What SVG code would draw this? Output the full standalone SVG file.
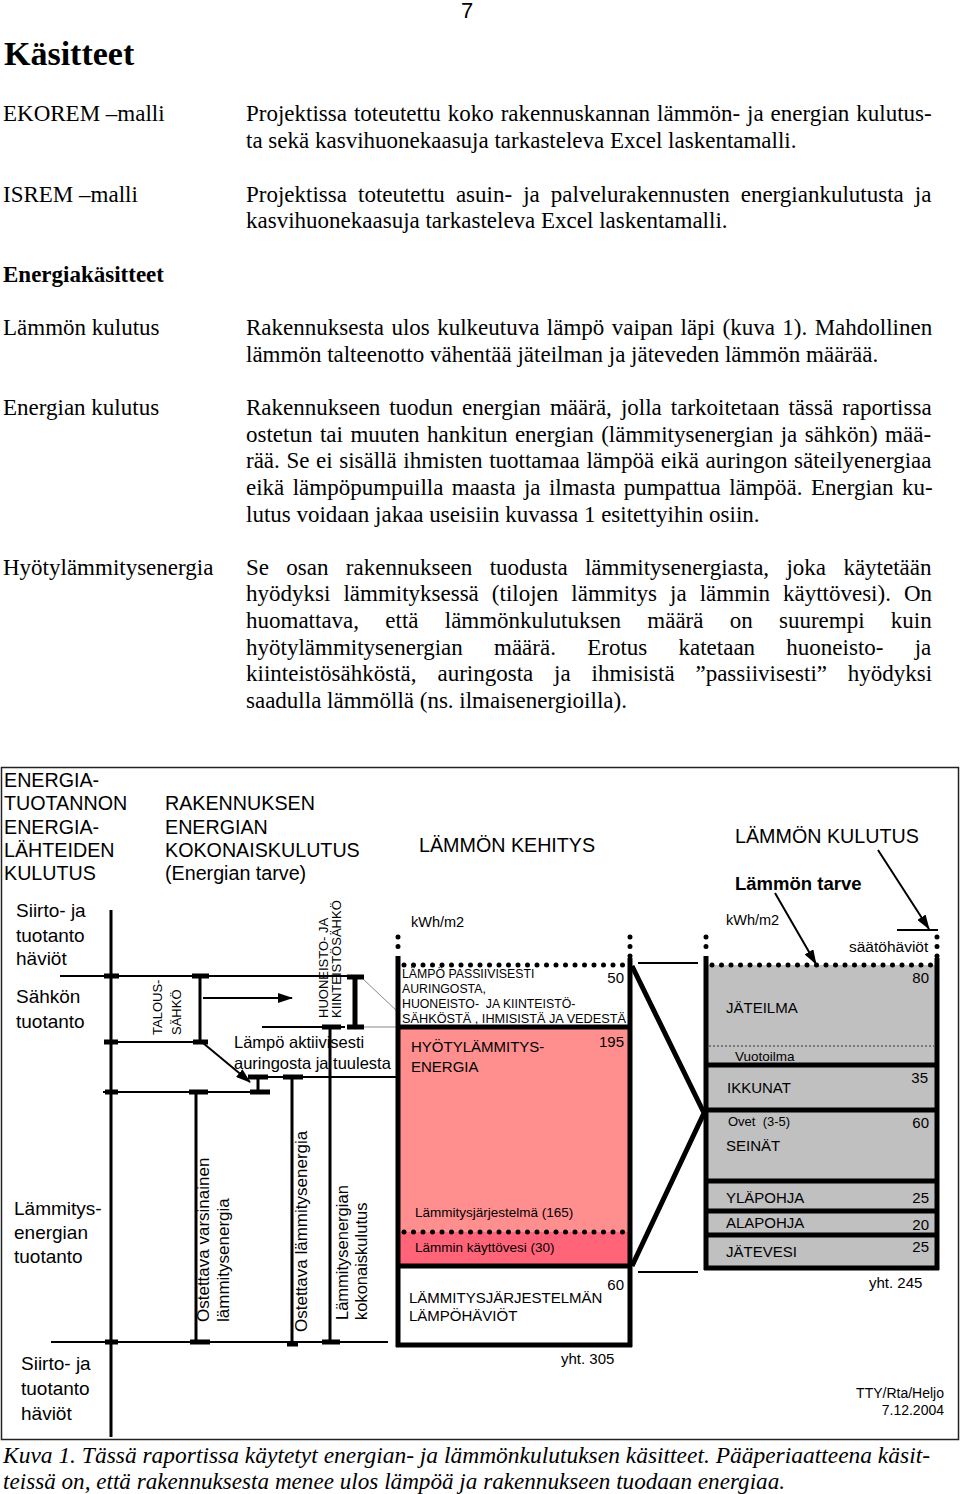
<svg xmlns="http://www.w3.org/2000/svg" width="960" height="1494" viewBox="0 0 960 1494">
<defs>
<style>
.b{font-family:"Liberation Serif","Times New Roman",serif;font-size:23px;fill:#000}
.s{font-family:"Liberation Sans",Arial,sans-serif;fill:#000}
.h{font-size:19.7px}
.m{font-size:19px}
.n{font-size:15px}
.ln{stroke:#000;stroke-width:2;fill:none}
.vl{stroke:#000;stroke-width:3;fill:none}
.tk{stroke:#000;stroke-width:5;fill:none}
.bd{stroke:#000;stroke-width:5;fill:none}
.dt{stroke:#000;stroke-width:5;fill:none;stroke-linecap:round;stroke-dasharray:0 9.5}
.gr{stroke:#888;stroke-width:1;fill:none}
.ar{stroke:#000;stroke-width:2;fill:none;marker-end:url(#arr)}
</style>
<marker id="arr" viewBox="0 0 15 10" refX="14" refY="5" markerWidth="15" markerHeight="10" markerUnits="userSpaceOnUse" orient="auto"><path d="M0,0 L15,5 L0,10 z" fill="#000"/></marker>
</defs>
<rect width="960" height="1494" fill="#fff"/>

<g id="page-text">
<text class="s" x="461" y="18" style="font-size:22px">7</text>
<text class="b" x="4" y="65" style="font-size:34px;font-weight:bold">Käsitteet</text>
<text class="b" x="3" y="121">EKOREM –malli</text>
<text class="b" x="246" y="121" style="word-spacing:1.2px">Projektissa toteutettu koko rakennuskannan lämmön- ja energian kulutus-</text>
<text class="b" x="246" y="147.5">ta sekä kasvihuonekaasuja tarkasteleva Excel laskentamalli.</text>
<text class="b" x="3" y="201.5">ISREM –malli</text>
<text class="b" x="246" y="201.5" style="word-spacing:5.3px">Projektissa toteutettu asuin- ja palvelurakennusten energiankulutusta ja</text>
<text class="b" x="246" y="228">kasvihuonekaasuja tarkasteleva Excel laskentamalli.</text>
<text class="b" x="3" y="281.5" style="font-weight:bold">Energiakäsitteet</text>
<text class="b" x="3" y="334.5">Lämmön kulutus</text>
<text class="b" x="246" y="334.5" style="word-spacing:1.7px">Rakennuksesta ulos kulkeutuva lämpö vaipan läpi (kuva 1). Mahdollinen</text>
<text class="b" x="246" y="361.5">lämmön talteenotto vähentää jäteilman ja jäteveden lämmön määrää.</text>
<text class="b" x="3" y="414.5">Energian kulutus</text>
<text class="b" x="246" y="414.5" style="word-spacing:3.3px">Rakennukseen tuodun energian määrä, jolla tarkoitetaan tässä raportissa</text>
<text class="b" x="246" y="441.5" style="word-spacing:1.75px">ostetun tai muuten hankitun energian (lämmitysenergian ja sähkön) mää-</text>
<text class="b" x="246" y="468" style="word-spacing:0.85px">rää. Se ei sisällä ihmisten tuottamaa lämpöä eikä auringon säteilyenergiaa</text>
<text class="b" x="246" y="494.5" style="word-spacing:2.6px">eikä lämpöpumpuilla maasta ja ilmasta pumpattua lämpöä. Energian ku-</text>
<text class="b" x="246" y="521.5">lutus voidaan jakaa useisiin kuvassa 1 esitettyihin osiin.</text>
<text class="b" x="3" y="574.5">Hyötylämmitysenergia</text>
<text class="b" x="246" y="574.5" style="word-spacing:11.6px">Se osan rakennukseen tuodusta lämmitysenergiasta, joka käytetään</text>
<text class="b" x="246" y="600.5" style="word-spacing:7.3px">hyödyksi lämmityksessä (tilojen lämmitys ja lämmin käyttövesi). On</text>
<text class="b" x="246" y="627.5" style="word-spacing:20.5px">huomattava, että lämmönkulutuksen määrä on suurempi kuin</text>
<text class="b" x="246" y="654.5" style="word-spacing:25.5px">hyötylämmitysenergian määrä. Erotus katetaan huoneisto- ja</text>
<text class="b" x="246" y="680.5" style="word-spacing:15.1px">kiinteistösähköstä, auringosta ja ihmisistä ”passiivisesti” hyödyksi</text>
<text class="b" x="246" y="707.5">saadulla lämmöllä (ns. ilmaisenergioilla).</text>
<text class="b" x="3" y="1463" style="font-style:italic;font-size:24px" textLength="927" lengthAdjust="spacingAndGlyphs">Kuva  1.  Tässä raportissa käytetyt energian- ja lämmönkulutuksen käsitteet. Pääperiaatteena käsit-</text>
<text class="b" x="3" y="1489" style="font-style:italic;font-size:24px" textLength="782" lengthAdjust="spacingAndGlyphs">teissä on, että rakennuksesta menee ulos lämpöä ja rakennukseen tuodaan energiaa.</text>
</g>

<rect id="frame" x="1.5" y="767.5" width="957" height="672" fill="none" stroke="#222" stroke-width="1.5"/>

<g id="connectors">
<line class="ln" x1="60" y1="976" x2="347" y2="976"/>
<line class="ln" x1="107" y1="1042" x2="203" y2="1042"/>
<line class="ln" x1="103" y1="1092" x2="270" y2="1092"/>
<line class="ln" x1="248" y1="1077" x2="397" y2="1077"/>
<line class="ln" x1="262" y1="1027" x2="345" y2="1027"/>
<line class="gr" x1="363" y1="1027" x2="397" y2="1027"/>
<line class="gr" x1="362" y1="978" x2="398" y2="1012"/>
<line class="ln" x1="51" y1="1342" x2="388" y2="1342"/>
<line class="vl" x1="111" y1="910" x2="111" y2="1437"/>
<line class="vl" x1="200" y1="976" x2="200" y2="1042"/>
<line class="vl" x1="196" y1="1092" x2="196" y2="1342"/>
<line class="vl" x1="258" y1="1077" x2="258" y2="1092"/>
<line class="vl" x1="292" y1="1077" x2="292" y2="1345"/>
<line class="vl" x1="330" y1="1027" x2="330" y2="1342"/>
<line class="bd" x1="355" y1="977" x2="355" y2="1027"/>
<line class="tk" x1="104" y1="976" x2="119" y2="976"/>
<line class="tk" x1="192" y1="976" x2="209" y2="976"/>
<line class="tk" x1="104" y1="1042" x2="118" y2="1042"/>
<line class="tk" x1="193" y1="1042" x2="208" y2="1042"/>
<line class="tk" x1="105" y1="1092" x2="118" y2="1092"/>
<line class="tk" x1="189" y1="1092" x2="208" y2="1092"/>
<line class="tk" x1="248" y1="1077" x2="268" y2="1077"/>
<line class="tk" x1="250" y1="1092" x2="270" y2="1092"/>
<line class="tk" x1="283" y1="1077" x2="303" y2="1077"/>
<line class="tk" x1="322" y1="1027" x2="341" y2="1027"/>
<line class="tk" x1="347" y1="977" x2="364" y2="977"/>
<line class="tk" x1="347" y1="1027" x2="364" y2="1027"/>
<line class="tk" x1="105" y1="1342" x2="118" y2="1342"/>
<line class="tk" x1="190" y1="1342" x2="210" y2="1342"/>
<line class="tk" x1="287" y1="1344" x2="298" y2="1344"/>
<line class="tk" x1="322" y1="1342" x2="340" y2="1342"/>
<line class="ar" x1="203" y1="998" x2="292" y2="998"/>
<line class="ar" x1="203" y1="1043" x2="250" y2="1082"/>
<line class="ar" x1="878" y1="850" x2="929" y2="929"/>
<line class="ar" x1="775" y1="893" x2="816" y2="964"/>
<line class="ln" x1="897" y1="930" x2="938" y2="930"/>
<polyline class="bd" points="632,966 704,1113 632,1266"/>
<line stroke="#000" stroke-width="1.8" x1="638" y1="963" x2="698" y2="963"/>
<line stroke="#000" stroke-width="1.8" x1="638" y1="1272" x2="698" y2="1272"/>
</g>

<g id="left-labels" class="s">
<text class="h" x="4" y="787">ENERGIA-</text>
<text class="h" x="4" y="810">TUOTANNON</text>
<text class="h" x="4" y="833.5">ENERGIA-</text>
<text class="h" x="4" y="857">LÄHTEIDEN</text>
<text class="h" x="4" y="880">KULUTUS</text>
<text class="h" x="165" y="810">RAKENNUKSEN</text>
<text class="h" x="165" y="833.5">ENERGIAN</text>
<text class="h" x="165" y="857">KOKONAISKULUTUS</text>
<text class="h" x="165" y="880">(Energian tarve)</text>
<text class="m" x="16" y="917">Siirto- ja</text>
<text class="m" x="16" y="941.5">tuotanto</text>
<text class="m" x="16" y="965">häviöt</text>
<text class="m" x="16" y="1003">Sähkön</text>
<text class="m" x="16" y="1028">tuotanto</text>
<text class="m" x="14" y="1215">Lämmitys-</text>
<text class="m" x="14" y="1239">energian</text>
<text class="m" x="14" y="1263">tuotanto</text>
<text class="m" x="21" y="1370">Siirto- ja</text>
<text class="m" x="21" y="1395">tuotanto</text>
<text class="m" x="21" y="1420">häviöt</text>
<text x="234" y="1048" style="font-size:16.5px">Lämpö aktiivisesti</text>
<text x="234" y="1069" style="font-size:16.5px">auringosta ja tuulesta</text>
<text transform="translate(162,1035) rotate(-90)" style="font-size:13px">TALOUS-</text>
<text transform="translate(181,1035) rotate(-90)" style="font-size:13px">SÄHKÖ</text>
<text transform="translate(328,1018) rotate(-90)" style="font-size:13px">HUONEISTO- JA</text>
<text transform="translate(341,1018) rotate(-90)" style="font-size:13px">KIINTEISTÖSÄHKÖ</text>
<text transform="translate(209,1322) rotate(-90)" style="font-size:17px">Ostettava varsinainen</text>
<text transform="translate(229,1322) rotate(-90)" style="font-size:17px">lämmitysenergia</text>
<text transform="translate(307,1332) rotate(-90)" style="font-size:17px">Ostettava lämmitysenergia</text>
<text transform="translate(348,1320) rotate(-90)" style="font-size:16.5px">Lämmitysenergian</text>
<text transform="translate(367,1320) rotate(-90)" style="font-size:16.5px">kokonaiskulutus</text>
</g>

<g id="lammon-kehitys">
<rect x="398" y="1027" width="232" height="205" fill="#FF8F8F"/>
<rect x="398" y="1232" width="232" height="34" fill="#FF6479"/>
<line class="dt" x1="398" y1="937" x2="398" y2="950"/>
<line class="dt" x1="630" y1="937" x2="630" y2="958"/>
<line class="dt" x1="404" y1="965" x2="628" y2="965"/>
<line class="bd" x1="398" y1="956" x2="398" y2="1347"/>
<line class="bd" x1="630" y1="958" x2="630" y2="1347"/>
<line class="bd" x1="396" y1="1027" x2="632" y2="1027"/>
<line class="dt" x1="404" y1="1232" x2="626" y2="1232"/>
<line class="bd" x1="396" y1="1266" x2="632" y2="1266"/>
<line class="bd" x1="396" y1="1345" x2="632" y2="1345"/>
<g class="s">
<text x="419" y="852" class="h">LÄMMÖN KEHITYS</text>
<text x="411" y="927" style="font-size:14.5px">kWh/m2</text>
<text x="402" y="978" style="font-size:12.3px">LÄMPÖ PASSIIVISESTI</text>
<text x="402" y="993" style="font-size:12.3px">AURINGOSTA,</text>
<text x="402" y="1007.5" style="font-size:12.3px">HUONEISTO-&#160; JA KIINTEISTÖ-</text>
<text x="402" y="1022.5" style="font-size:12.3px" textLength="224" lengthAdjust="spacingAndGlyphs">SÄHKÖSTÄ , IHMISISTÄ JA VEDESTÄ</text>
<text x="624" y="983" class="n" text-anchor="end">50</text>
<text x="411" y="1052" class="n">HYÖTYLÄMMITYS-</text>
<text x="411" y="1072" class="n">ENERGIA</text>
<text x="624" y="1047" class="n" text-anchor="end">195</text>
<text x="415" y="1217" style="font-size:13.5px">Lämmitysjärjestelmä (165)</text>
<text x="415" y="1252" style="font-size:13.5px">Lämmin käyttövesi (30)</text>
<text x="624" y="1290" class="n" text-anchor="end">60</text>
<text x="409" y="1303" class="n">LÄMMITYSJÄRJESTELMÄN</text>
<text x="409" y="1321" class="n">LÄMPÖHÄVIÖT</text>
<text x="561" y="1364" class="n">yht. 305</text>
</g>
</g>

<g id="lammon-kulutus">
<rect x="706" y="965" width="231" height="302" fill="#C0C0C0"/>
<line class="dt" x1="706" y1="937" x2="706" y2="950"/>
<line class="dt" x1="937" y1="937" x2="937" y2="958"/>
<line class="dt" x1="712" y1="965" x2="932" y2="965"/>
<line class="bd" x1="706" y1="956" x2="706" y2="1270"/>
<line class="bd" x1="937" y1="958" x2="937" y2="1270"/>
<line stroke="#333" stroke-width="1.2" stroke-dasharray="2 2" x1="709" y1="1046" x2="934" y2="1046"/>
<line class="bd" x1="704" y1="1065" x2="939" y2="1065"/>
<line class="bd" x1="704" y1="1110" x2="939" y2="1110"/>
<line class="bd" x1="704" y1="1181" x2="939" y2="1181"/>
<line class="bd" x1="704" y1="1211" x2="939" y2="1211"/>
<line class="bd" x1="704" y1="1235" x2="939" y2="1235"/>
<line class="bd" x1="704" y1="1268" x2="939" y2="1268"/>
<g class="s">
<text x="735" y="843" class="h">LÄMMÖN KULUTUS</text>
<text x="735" y="890" style="font-size:18.5px;font-weight:bold">Lämmön tarve</text>
<text x="726" y="925" style="font-size:14.5px">kWh/m2</text>
<text x="849" y="952" style="font-size:15.5px">säätöhäviöt</text>
<text x="929" y="983" class="n" text-anchor="end">80</text>
<text x="726" y="1013" class="n">JÄTEILMA</text>
<text x="735" y="1061" style="font-size:13.5px">Vuotoilma</text>
<text x="928" y="1083" class="n" text-anchor="end">35</text>
<text x="727" y="1093" class="n">IKKUNAT</text>
<text x="728" y="1126" style="font-size:13px">Ovet&#160; (3-5)</text>
<text x="929" y="1128" class="n" text-anchor="end">60</text>
<text x="726" y="1151" class="n">SEINÄT</text>
<text x="726" y="1203" class="n">YLÄPOHJA</text>
<text x="929" y="1203" class="n" text-anchor="end">25</text>
<text x="726" y="1228" class="n">ALAPOHJA</text>
<text x="929" y="1230" class="n" text-anchor="end">20</text>
<text x="726" y="1257" class="n">JÄTEVESI</text>
<text x="929" y="1252" class="n" text-anchor="end">25</text>
<text x="869" y="1288" class="n">yht. 245</text>
<text x="944" y="1398" style="font-size:14px" text-anchor="end">TTY/Rta/Heljo</text>
<text x="944" y="1415" style="font-size:14px" text-anchor="end">7.12.2004</text>
</g>
</g>
</svg>
